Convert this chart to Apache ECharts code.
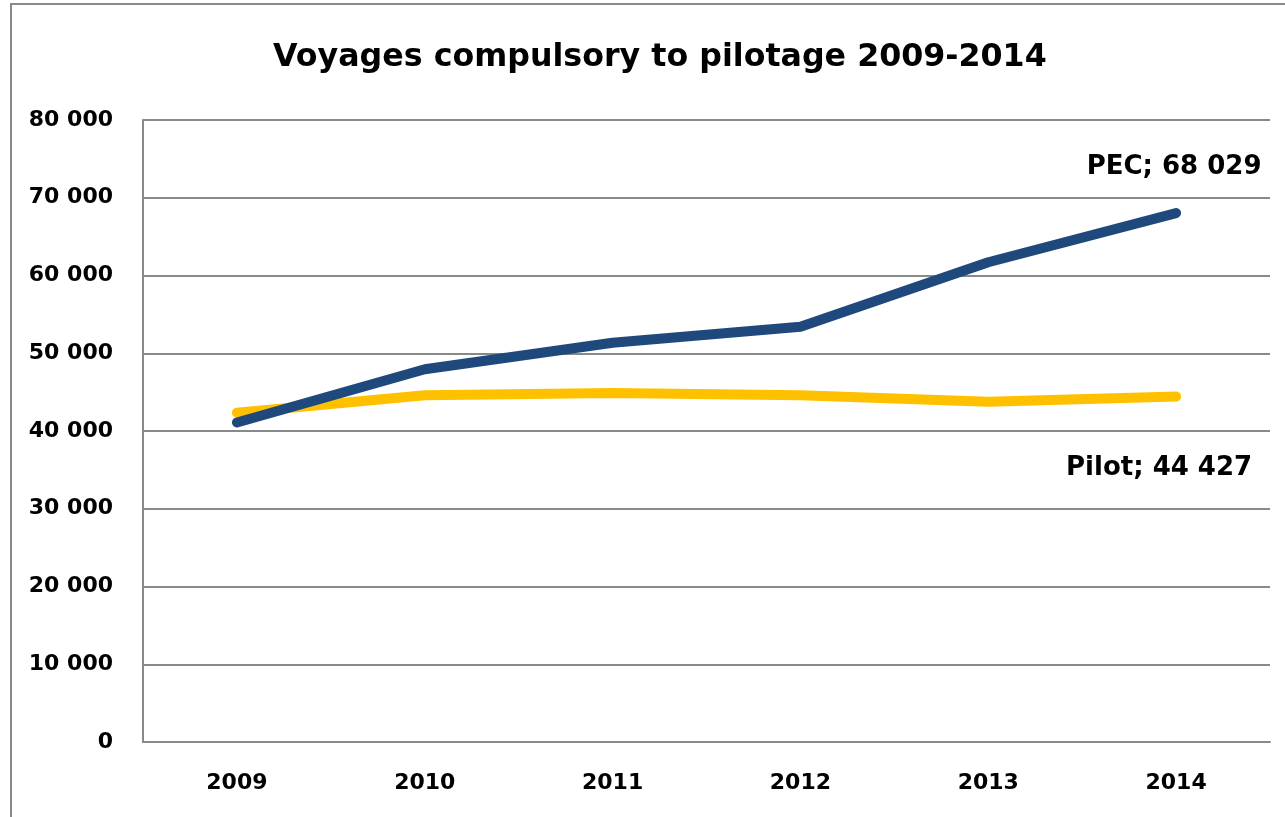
<!DOCTYPE html>
<html>
<head>
<meta charset="utf-8">
<script src="https://cdn.jsdelivr.net/npm/echarts@6/dist/echarts.min.js"></script>
<style>
  html, body { margin: 0; padding: 0; background: #fff; }
  #chart { width: 1285px; height: 817px; }
</style>
</head>
<body>
<div id="chart"></div>
<script>
// data
const years = ['2009', '2010', '2011', '2012', '2013', '2014'];
const pecValues = [41100, 47950, 51350, 53400, 61700, 68029];
const pilotValues = [42350, 44600, 44900, 44600, 43750, 44427];
const yTicks = [0, 10000, 20000, 30000, 40000, 50000, 60000, 70000, 80000];

const fontFamily = '"DejaVu Sans", "Open Sans", sans-serif';
const fmt = (v) => String(v).replace(/\B(?=(\d{3})+(?!\d))/g, ' ');

// label at the end of each line, like the "Series; value" labels
const endLabel = (name, offset) => ({
  show: true,
  align: 'center',
  verticalAlign: 'middle',
  offset: offset,
  formatter: (p) => name + '; ' + fmt(p.value),
  fontFamily: fontFamily,
  fontWeight: 'bold',
  fontSize: 26,
  color: '#000'
});

const chart = echarts.init(document.getElementById('chart'));
chart.setOption({
  animation: false,
  backgroundColor: '#fff',
  title: {
    text: 'Voyages compulsory to pilotage 2009-2014',
    left: 268,
    top: 37,
    textStyle: { fontFamily: fontFamily, fontWeight: 'bold', fontSize: 31.7, color: '#000' }
  },
  graphic: [{
    type: 'rect',
    shape: { x: 11, y: 4, width: 1300, height: 900 },
    style: { fill: 'none', stroke: '#898989', lineWidth: 2 }
  }],
  grid: { left: 143, right: 15, top: 120, bottom: 75 },
  xAxis: {
    type: 'category',
    data: years,
    boundaryGap: true,
    axisLine: { lineStyle: { color: '#898989', width: 2 } },
    axisTick: { show: false },
    axisLabel: { fontFamily: fontFamily, fontWeight: 'bold', fontSize: 22, color: '#000', margin: 30 }
  },
  yAxis: {
    type: 'value',
    min: yTicks[0],
    max: yTicks[yTicks.length - 1],
    interval: 10000,
    axisLine: { show: true, lineStyle: { color: '#898989', width: 2 } },
    axisTick: { show: false },
    splitLine: { lineStyle: { color: '#898989', width: 2 } },
    axisLabel: { fontFamily: fontFamily, fontWeight: 'bold', fontSize: 22, color: '#000', margin: 30, formatter: fmt }
  },
  series: [
    {
      name: 'Pilot',
      type: 'line',
      data: pilotValues,
      symbol: 'none',
      lineStyle: { color: '#FFC000', width: 10, cap: 'round', join: 'round' },
      itemStyle: { color: '#FFC000' },
      endLabel: endLabel('Pilot', [-25, 72])
    },
    {
      name: 'PEC',
      type: 'line',
      data: pecValues,
      symbol: 'none',
      lineStyle: { color: '#1F497D', width: 10, cap: 'round', join: 'round' },
      itemStyle: { color: '#1F497D' },
      endLabel: endLabel('PEC', [-10, -46])
    }
  ]
});
</script>
</body>
</html>
